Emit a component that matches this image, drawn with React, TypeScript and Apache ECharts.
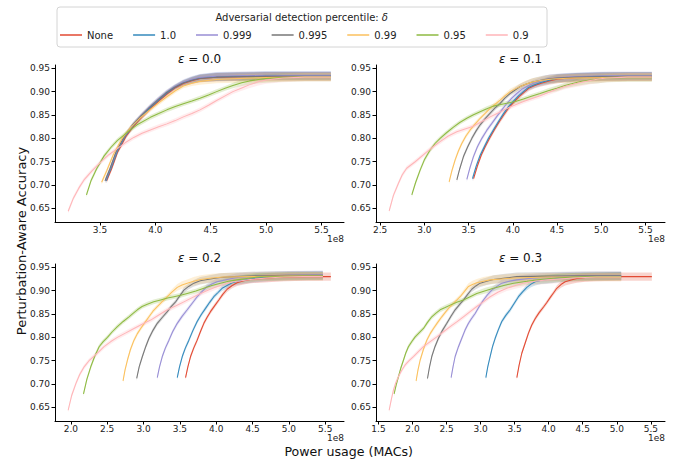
import React, { useEffect, useRef } from "react";
import * as echarts from "echarts";

// ---------- labels ----------
const SERIES_NAMES = ["None", "1.0", "0.999", "0.995", "0.99", "0.95", "0.9"];
const LEGEND_TITLE = "Adversarial detection percentile: ";
const EPSILONS = ["0.0", "0.1", "0.2", "0.3"];
const X_LABEL = "Power usage (MACs)";
const Y_LABEL = "Perturbation-Aware Accuracy";
const X_OFFSET_LABEL = "1e8";

// ---------- ticks ----------
const Y_TICKS = [0.65, 0.7, 0.75, 0.8, 0.85, 0.9, 0.95];
const X_TICKS_E0 = [3.5, 4.0, 4.5, 5.0, 5.5];
const X_TICKS_E1 = [2.5, 3.0, 3.5, 4.0, 4.5, 5.0, 5.5];
const X_TICKS_E2 = [2.0, 2.5, 3.0, 3.5, 4.0, 4.5, 5.0, 5.5];
const X_TICKS_E3 = [1.5, 2.0, 2.5, 3.0, 3.5, 4.0, 4.5, 5.0, 5.5];

// ---------- data: [MACs (x1e8), accuracy, band half-width (default 0.005)] ----------
// eps = 0.0
const E0_NONE = [[3.56,0.709],[3.605,0.735],[3.66,0.771],[3.735,0.804],[3.81,0.828],[3.885,0.847],[3.96,0.865],[4.035,0.881],[4.11,0.896],[4.185,0.909],[4.258,0.918,0.006],[4.335,0.924,0.007],[4.408,0.928,0.008],[4.555,0.931,0.009],[4.75,0.932,0.009],[5.0,0.933,0.009],[5.3,0.933,0.009],[5.584,0.933,0.009]];
const E0_P1000 = [[3.555,0.709],[3.60,0.736],[3.656,0.772],[3.73,0.805],[3.805,0.829],[3.88,0.848],[3.955,0.866],[4.03,0.882],[4.104,0.897],[4.18,0.910],[4.253,0.919,0.006],[4.33,0.925,0.007],[4.403,0.929,0.008],[4.55,0.932,0.009],[4.75,0.933,0.009],[5.0,0.934,0.009],[5.3,0.934,0.009],[5.584,0.934,0.009]];
const E0_P0999 = [[3.55,0.710],[3.595,0.737],[3.65,0.773],[3.725,0.806],[3.80,0.830],[3.875,0.850],[3.95,0.868],[4.025,0.884],[4.10,0.899],[4.175,0.911],[4.25,0.920,0.006],[4.325,0.926,0.007],[4.40,0.930,0.008],[4.55,0.933,0.009],[4.75,0.934,0.009],[5.0,0.935,0.009],[5.3,0.935,0.009],[5.584,0.935,0.009]];
const E0_P0995 = [[3.545,0.709],[3.59,0.735],[3.645,0.771],[3.72,0.804],[3.795,0.829],[3.87,0.848],[3.945,0.866],[4.02,0.882],[4.095,0.897],[4.17,0.909],[4.245,0.918,0.006],[4.32,0.924,0.007],[4.395,0.928,0.008],[4.55,0.931,0.009],[4.75,0.932,0.009],[5.0,0.933,0.009],[5.3,0.933,0.009],[5.584,0.933,0.009]];
const E0_P0990 = [[3.515,0.706],[3.56,0.730],[3.62,0.765],[3.70,0.800],[3.78,0.824],[3.86,0.843],[3.955,0.862],[4.03,0.876],[4.104,0.889],[4.18,0.902],[4.253,0.912],[4.33,0.918,0.006],[4.403,0.922,0.007],[4.55,0.926,0.008],[4.75,0.928,0.009],[5.0,0.930,0.009],[5.3,0.931,0.009],[5.584,0.931,0.009]];
const E0_P0950 = [[3.378,0.679],[3.42,0.71],[3.47,0.735],[3.536,0.762],[3.60,0.781],[3.656,0.795],[3.746,0.813],[3.835,0.829],[3.955,0.845],[4.03,0.853],[4.104,0.861],[4.18,0.868],[4.253,0.874],[4.33,0.880],[4.403,0.886],[4.48,0.893],[4.553,0.900],[4.63,0.907],[4.70,0.913,0.006],[4.78,0.919,0.007],[4.85,0.923,0.008],[4.93,0.926,0.008],[5.0,0.928,0.009],[5.15,0.930,0.009],[5.35,0.931,0.009],[5.584,0.931,0.009]];
const E0_P0900 = [[3.213,0.644],[3.26,0.672],[3.31,0.694],[3.356,0.711],[3.43,0.731],[3.506,0.749],[3.58,0.765],[3.656,0.778],[3.73,0.791],[3.805,0.802],[3.88,0.811],[3.955,0.818],[4.03,0.825],[4.104,0.831],[4.18,0.838],[4.253,0.846],[4.33,0.853],[4.403,0.861],[4.48,0.871],[4.553,0.881],[4.63,0.891],[4.70,0.900],[4.78,0.908,0.006],[4.852,0.915,0.007],[4.93,0.921,0.008],[5.0,0.925,0.008],[5.15,0.929,0.009],[5.35,0.931,0.009],[5.584,0.931,0.009]];

// eps = 0.1
const E1_NONE = [[3.556,0.714],[3.60,0.741],[3.645,0.765],[3.69,0.783],[3.737,0.800],[3.79,0.818],[3.848,0.836],[3.905,0.852],[3.961,0.867],[4.02,0.879],[4.074,0.890],[4.13,0.899],[4.187,0.908,0.006],[4.25,0.913,0.006],[4.32,0.918,0.007],[4.41,0.923,0.008],[4.51,0.927,0.009],[4.7,0.930,0.009],[5.0,0.932,0.009],[5.3,0.932,0.009],[5.572,0.932,0.009]];
const E1_P1000 = [[3.544,0.714],[3.585,0.740],[3.631,0.764],[3.68,0.783],[3.725,0.800],[3.78,0.818],[3.838,0.836],[3.895,0.853],[3.951,0.868],[4.01,0.880],[4.064,0.891],[4.12,0.900],[4.177,0.909,0.006],[4.24,0.914,0.006],[4.309,0.919,0.007],[4.40,0.924,0.008],[4.498,0.928,0.009],[4.7,0.931,0.009],[5.0,0.933,0.009],[5.3,0.933,0.009],[5.572,0.933,0.009]];
const E1_P0999 = [[3.48,0.712],[3.515,0.737],[3.555,0.761],[3.60,0.782],[3.65,0.800],[3.705,0.817],[3.763,0.832],[3.82,0.847],[3.876,0.861],[3.93,0.874],[3.989,0.886],[4.045,0.896],[4.102,0.905,0.006],[4.17,0.912,0.006],[4.234,0.918,0.007],[4.33,0.924,0.008],[4.422,0.928,0.009],[4.6,0.931,0.009],[4.85,0.933,0.009],[5.1,0.934,0.009],[5.35,0.934,0.009],[5.572,0.934,0.009]];
const E1_P0995 = [[3.367,0.711],[3.40,0.735],[3.442,0.761],[3.49,0.782],[3.537,0.800],[3.585,0.816],[3.631,0.829],[3.69,0.843],[3.744,0.854],[3.80,0.865],[3.857,0.875],[3.91,0.886],[3.97,0.896],[4.03,0.904,0.006],[4.083,0.911,0.006],[4.16,0.917,0.007],[4.234,0.921,0.008],[4.36,0.926,0.009],[4.498,0.929,0.009],[4.75,0.931,0.009],[5.0,0.932,0.009],[5.3,0.933,0.009],[5.572,0.933,0.009]];
const E1_P0990 = [[3.28,0.707],[3.31,0.730],[3.348,0.754],[3.385,0.773],[3.423,0.789],[3.47,0.805],[3.518,0.818],[3.575,0.831],[3.631,0.843],[3.69,0.854],[3.744,0.864],[3.80,0.873],[3.857,0.882],[3.91,0.891],[3.97,0.900,0.006],[4.04,0.907,0.006],[4.12,0.914,0.007],[4.21,0.920,0.008],[4.309,0.924,0.008],[4.45,0.927,0.009],[4.686,0.929,0.009],[5.0,0.930,0.009],[5.3,0.931,0.009],[5.572,0.931,0.009]];
const E1_P0950 = [[2.858,0.679],[2.90,0.705],[2.952,0.732],[3.00,0.754],[3.065,0.775],[3.12,0.789],[3.178,0.800],[3.25,0.812],[3.329,0.824],[3.40,0.834],[3.48,0.843],[3.55,0.850],[3.63,0.857],[3.70,0.863],[3.78,0.869],[3.85,0.872],[3.932,0.875],[4.03,0.879],[4.12,0.884],[4.21,0.890],[4.309,0.896],[4.40,0.902],[4.498,0.907,0.006],[4.59,0.913,0.006],[4.686,0.918,0.007],[4.78,0.922,0.008],[4.875,0.925,0.008],[4.97,0.927,0.009],[5.063,0.929,0.009],[5.3,0.930,0.009],[5.572,0.930,0.009]];
const E1_P0900 = [[2.602,0.645],[2.65,0.678],[2.707,0.704],[2.75,0.722],[2.80,0.736],[2.896,0.750],[3.028,0.771],[3.10,0.782],[3.178,0.793],[3.27,0.805],[3.367,0.814],[3.46,0.820],[3.555,0.826],[3.65,0.836],[3.744,0.846],[3.84,0.855],[3.932,0.864],[4.03,0.872],[4.12,0.879],[4.21,0.885],[4.309,0.891],[4.40,0.898],[4.498,0.905,0.006],[4.59,0.911,0.006],[4.686,0.916,0.007],[4.78,0.920,0.008],[4.875,0.924,0.008],[4.97,0.927,0.009],[5.063,0.929,0.009],[5.3,0.931,0.009],[5.572,0.931,0.009]];

// eps = 0.2
const E2_NONE = [[3.578,0.714],[3.61,0.737],[3.647,0.759],[3.69,0.777],[3.738,0.794],[3.785,0.813],[3.83,0.830],[3.875,0.843],[3.921,0.855],[3.98,0.868],[4.036,0.880],[4.09,0.892],[4.15,0.903,0.006],[4.22,0.911,0.006],[4.287,0.917,0.007],[4.38,0.921,0.008],[4.47,0.924,0.008],[4.70,0.927,0.009],[4.928,0.929,0.009],[5.25,0.930,0.009],[5.577,0.930,0.009]];
const E2_P1000 = [[3.464,0.714],[3.495,0.737],[3.533,0.759],[3.575,0.777],[3.624,0.794],[3.68,0.815],[3.738,0.834],[3.795,0.849],[3.853,0.862],[3.91,0.875],[3.967,0.887],[4.025,0.896],[4.081,0.905,0.006],[4.15,0.911,0.006],[4.219,0.917,0.007],[4.32,0.921,0.008],[4.425,0.924,0.008],[4.56,0.927,0.009],[4.70,0.929,0.009],[5.0,0.931,0.009],[5.467,0.932,0.009]];
const E2_P0999 = [[3.189,0.714],[3.22,0.737],[3.258,0.759],[3.30,0.777],[3.35,0.794],[3.40,0.812],[3.464,0.830],[3.53,0.845],[3.601,0.859],[3.67,0.873],[3.738,0.887],[3.81,0.899],[3.876,0.909,0.006],[3.94,0.914,0.006],[4.013,0.919,0.007],[4.15,0.924,0.008],[4.287,0.928,0.009],[4.6,0.931,0.009],[5.0,0.933,0.009],[5.467,0.934,0.009]];
const E2_P0995 = [[2.906,0.712],[2.94,0.737],[2.984,0.759],[3.03,0.780],[3.075,0.798],[3.13,0.815],[3.189,0.830],[3.26,0.843],[3.327,0.855],[3.38,0.866],[3.441,0.876],[3.50,0.889],[3.555,0.901,0.006],[3.62,0.909,0.006],[3.693,0.916,0.007],[3.78,0.921,0.008],[3.876,0.924,0.008],[4.05,0.928,0.009],[4.242,0.930,0.009],[4.6,0.932,0.009],[5.0,0.933,0.009],[5.467,0.933,0.009]];
const E2_P0990 = [[2.718,0.707],[2.745,0.730],[2.778,0.751],[2.82,0.774],[2.869,0.794],[2.915,0.808],[2.961,0.819],[3.02,0.832],[3.075,0.844],[3.13,0.856],[3.189,0.866],[3.26,0.877],[3.327,0.887],[3.39,0.897,0.006],[3.464,0.907,0.007],[3.53,0.912,0.008],[3.601,0.916,0.008],[3.69,0.920,0.009],[3.784,0.924,0.009],[3.94,0.927,0.009],[4.104,0.929,0.009],[4.5,0.930,0.009],[5.0,0.931,0.009],[5.467,0.931,0.009]];
const E2_P0950 = [[2.174,0.679],[2.22,0.710],[2.274,0.737],[2.33,0.760],[2.389,0.780],[2.445,0.791],[2.503,0.800],[2.57,0.812],[2.64,0.823],[2.72,0.834],[2.80,0.844],[2.86,0.852],[2.915,0.859],[2.98,0.866],[3.052,0.871],[3.14,0.876],[3.235,0.880],[3.33,0.884],[3.418,0.887],[3.51,0.890],[3.601,0.894],[3.72,0.899],[3.83,0.905,0.006],[3.94,0.911,0.006],[4.059,0.916,0.007],[4.17,0.920,0.008],[4.287,0.923,0.008],[4.42,0.926,0.009],[4.562,0.929,0.009],[4.9,0.930,0.009],[5.2,0.931,0.009],[5.467,0.931,0.009]];
const E2_P0900 = [[1.963,0.644],[2.01,0.675],[2.069,0.701],[2.12,0.720],[2.183,0.737],[2.25,0.750],[2.32,0.760],[2.39,0.770],[2.457,0.780],[2.55,0.791],[2.64,0.800],[2.75,0.809],[2.869,0.819],[2.98,0.828],[3.098,0.837],[3.21,0.848],[3.327,0.859],[3.44,0.867],[3.555,0.876],[3.67,0.885],[3.784,0.894],[3.90,0.902,0.006],[4.013,0.909,0.006],[4.13,0.915,0.007],[4.242,0.919,0.008],[4.47,0.924,0.008],[4.70,0.927,0.009],[4.928,0.929,0.009],[5.2,0.930,0.009],[5.467,0.930,0.009]];

// eps = 0.3
const E3_NONE = [[3.532,0.714],[3.565,0.740],[3.605,0.766],[3.655,0.788],[3.703,0.809],[3.75,0.826],[3.801,0.840],[3.86,0.853],[3.924,0.865],[3.97,0.874],[4.021,0.885],[4.07,0.895],[4.119,0.905,0.006],[4.18,0.913,0.007],[4.242,0.919,0.008],[4.33,0.923,0.009],[4.413,0.926,0.009],[4.54,0.928,0.009],[4.658,0.929,0.009],[5.0,0.930,0.009],[5.3,0.930,0.009],[5.515,0.930,0.009]];
const E3_P1000 = [[3.077,0.714],[3.105,0.737],[3.14,0.759],[3.175,0.780],[3.214,0.798],[3.26,0.816],[3.311,0.834],[3.37,0.847],[3.434,0.859],[3.495,0.873],[3.556,0.887],[3.62,0.898],[3.679,0.907,0.006],[3.74,0.914,0.007],[3.801,0.919,0.008],[3.89,0.922,0.008],[3.972,0.924,0.009],[4.16,0.927,0.009],[4.364,0.929,0.009],[4.7,0.930,0.009],[5.064,0.931,0.009]];
const E3_P0999 = [[2.567,0.714],[2.595,0.737],[2.626,0.759],[2.675,0.780],[2.724,0.798],[2.77,0.815],[2.822,0.830],[2.87,0.841],[2.92,0.851],[2.98,0.866],[3.042,0.880],[3.10,0.891],[3.165,0.901,0.006],[3.24,0.909,0.007],[3.311,0.916,0.008],[3.42,0.920,0.008],[3.532,0.923,0.009],[3.70,0.926,0.009],[3.875,0.928,0.009],[4.3,0.931,0.009],[4.7,0.932,0.009],[5.064,0.932,0.009]];
const E3_P0995 = [[2.22,0.712],[2.25,0.737],[2.283,0.759],[2.33,0.780],[2.381,0.798],[2.44,0.815],[2.504,0.830],[2.565,0.845],[2.626,0.859],[2.69,0.870],[2.748,0.880],[2.81,0.892],[2.871,0.903,0.006],[2.93,0.910,0.007],[2.993,0.916,0.008],[3.09,0.920,0.008],[3.189,0.924,0.009],[3.36,0.927,0.009],[3.532,0.930,0.009],[4.0,0.931,0.009],[4.5,0.932,0.009],[5.064,0.932,0.009]];
const E3_P0990 = [[2.053,0.707],[2.08,0.730],[2.112,0.751],[2.16,0.774],[2.21,0.794],[2.26,0.808],[2.308,0.819],[2.37,0.832],[2.43,0.844],[2.49,0.855],[2.553,0.866],[2.63,0.877],[2.70,0.887],[2.76,0.898,0.006],[2.822,0.909,0.007],[2.88,0.913,0.008],[2.944,0.917,0.008],[3.04,0.920,0.009],[3.14,0.923,0.009],[3.31,0.925,0.009],[3.483,0.927,0.009],[4.0,0.929,0.009],[4.5,0.929,0.009],[5.064,0.929,0.009]];
const E3_P0950 = [[1.73,0.679],[1.76,0.698],[1.794,0.716],[1.83,0.735],[1.867,0.751],[1.90,0.766],[1.94,0.780],[1.99,0.791],[2.039,0.801],[2.10,0.810],[2.161,0.819],[2.22,0.832],[2.283,0.844],[2.345,0.852],[2.406,0.859],[2.48,0.864],[2.553,0.869],[2.65,0.875],[2.748,0.880],[2.846,0.887],[2.944,0.894],[3.07,0.900,0.006],[3.189,0.905,0.006],[3.34,0.911,0.007],[3.483,0.916,0.008],[3.68,0.920,0.008],[3.875,0.924,0.009],[4.12,0.927,0.009],[4.364,0.929,0.009],[4.7,0.930,0.009],[5.064,0.930,0.009]];
const E3_P0900 = [[1.657,0.644],[1.69,0.668],[1.72,0.687],[1.755,0.703],[1.794,0.716],[1.84,0.729],[1.892,0.741],[1.95,0.750],[2.014,0.759],[2.09,0.770],[2.161,0.780],[2.26,0.791],[2.357,0.801],[2.455,0.812],[2.553,0.823],[2.65,0.833],[2.748,0.844],[2.846,0.855],[2.944,0.866],[3.04,0.876],[3.14,0.887],[3.26,0.897,0.006],[3.385,0.905,0.006],[3.51,0.911,0.007],[3.63,0.916,0.008],[3.80,0.920,0.008],[3.972,0.923,0.009],[4.364,0.927,0.009],[4.7,0.929,0.009],[5.064,0.929,0.009]];

const PANELS = [
  [E0_NONE, E0_P1000, E0_P0999, E0_P0995, E0_P0990, E0_P0950, E0_P0900],
  [E1_NONE, E1_P1000, E1_P0999, E1_P0995, E1_P0990, E1_P0950, E1_P0900],
  [E2_NONE, E2_P1000, E2_P0999, E2_P0995, E2_P0990, E2_P0950, E2_P0900],
  [E3_NONE, E3_P1000, E3_P0999, E3_P0995, E3_P0990, E3_P0950, E3_P0900],
];
const X_TICKS = [X_TICKS_E0, X_TICKS_E1, X_TICKS_E2, X_TICKS_E3];

// ---------- layout / style ----------
const COLORS = ["#E24A33", "#348ABD", "#988ED5", "#777777", "#FBC15E", "#8EBA42", "#FFB5B8"];
const FONT = "DejaVu Sans";
const GRIDS = [
  { left: 55, top: 65, width: 289, height: 157 },
  { left: 376, top: 65, width: 289, height: 157 },
  { left: 55, top: 264, width: 289, height: 157 },
  { left: 376, top: 264, width: 289, height: 157 },
];
const X_RANGES = [[3.094, 5.703], [2.453, 5.721], [1.782, 5.758], [1.464, 5.708]];
const Y_RANGE = [0.621, 0.957];
const DEFAULT_BAND = 0.005;

function buildOption() {
  const series: any[] = [];
  PANELS.forEach((panel, pi) => {
    panel.forEach((pts, si) => {
      const color = COLORS[si];
      series.push({
        type: "custom",
        name: "band-" + pi + "-" + si,
        xAxisIndex: pi,
        yAxisIndex: pi,
        silent: true,
        z: 1,
        data: [[pts[0][0], pts[0][1]]],
        renderItem: (params: any, api: any) => {
          const upper = pts.map((p) => api.coord([p[0], p[1] + (p[2] ?? DEFAULT_BAND)]));
          const lower = pts
            .slice()
            .reverse()
            .map((p) => api.coord([p[0], p[1] - (p[2] ?? DEFAULT_BAND)]));
          return {
            type: "polygon",
            shape: { points: upper.concat(lower) },
            style: { fill: echarts.color.modifyAlpha(color, 0.24), stroke: "none" },
          };
        },
      });
    });
    panel.forEach((pts, si) => {
      const color = COLORS[si];
      series.push({
        type: "line",
        name: SERIES_NAMES[si],
        xAxisIndex: pi,
        yAxisIndex: pi,
        data: pts.map((p) => [p[0], p[1]]),
        showSymbol: false,
        symbol: "none",
        z: 3,
        lineStyle: { color, width: 1.05 },
        itemStyle: { color },
      });
    });
  });

  const xAxis = GRIDS.map((g, i) => ({
    type: "value",
    gridIndex: i,
    min: X_RANGES[i][0],
    max: X_RANGES[i][1],
    axisLine: { show: true, onZero: false, lineStyle: { color: "#000", width: 1 } },
    axisTick: { show: true, customValues: X_TICKS[i], length: 3.5, lineStyle: { color: "#000", width: 1 } },
    axisLabel: {
      customValues: X_TICKS[i],
      formatter: (v: number) => v.toFixed(1),
      fontSize: 9,
      color: "#222",
      margin: 3,
      fontFamily: FONT,
    },
    splitLine: { show: false },
  }));

  const yAxis = GRIDS.map((g, i) => ({
    type: "value",
    gridIndex: i,
    min: Y_RANGE[0],
    max: Y_RANGE[1],
    axisLine: { show: true, onZero: false, lineStyle: { color: "#000", width: 1 } },
    axisTick: { show: true, customValues: Y_TICKS, length: 3.5, lineStyle: { color: "#000", width: 1 } },
    axisLabel: {
      customValues: Y_TICKS,
      formatter: (v: number) => v.toFixed(2),
      fontSize: 9,
      color: "#222",
      margin: 5,
      fontFamily: FONT,
    },
    splitLine: { show: false },
  }));

  const graphic: any[] = [
    {
      type: "rect",
      z: 0,
      shape: { x: 57, y: 7, width: 490, height: 40, r: 3 },
      style: { fill: "#fff", stroke: "#d4d4d4", lineWidth: 1 },
    },
    {
      type: "text",
      z: 5,
      x: 301.7,
      y: 17.5,
      style: {
        text: LEGEND_TITLE + "{i|δ}",
        fontSize: 10,
        fontFamily: FONT,
        fill: "#222",
        align: "center",
        verticalAlign: "middle",
        rich: { i: { fontStyle: "italic", fontSize: 10, fontFamily: FONT, fill: "#222" } },
      },
    },
    {
      type: "text",
      x: 21.7,
      y: 241,
      rotation: Math.PI / 2,
      style: { text: Y_LABEL, fontSize: 13, fontFamily: FONT, fill: "#111", align: "center", verticalAlign: "middle" },
    },
    {
      type: "text",
      x: 348.7,
      y: 451.5,
      style: { text: X_LABEL, fontSize: 12.6, fontFamily: FONT, fill: "#111", align: "center", verticalAlign: "middle" },
    },
  ];
  GRIDS.forEach((g, i) => {
    graphic.push({
      type: "text",
      x: g.left + g.width / 2,
      y: g.top - 6,
      style: {
        text: "{i|ε} = " + EPSILONS[i],
        fontSize: 12,
        fontFamily: FONT,
        fill: "#111",
        align: "center",
        verticalAlign: "middle",
        rich: { i: { fontStyle: "italic", fontSize: 12, fontFamily: FONT, fill: "#111" } },
      },
    });
    graphic.push({
      type: "text",
      x: g.left + g.width,
      y: g.top + g.height + 17,
      style: { text: X_OFFSET_LABEL, fontSize: 9, fontFamily: FONT, fill: "#222", align: "right", verticalAlign: "middle" },
    });
  });

  return {
    animation: false,
    backgroundColor: "#fff",
    textStyle: { fontFamily: FONT },
    grid: GRIDS.map((g) => ({ ...g, containLabel: false })),
    xAxis,
    yAxis,
    series,
    graphic,
    legend: {
      z: 10,
      data: SERIES_NAMES.map((n) => ({ name: n, icon: "rect" })),
      left: 60,
      top: 30,
      padding: 0,
      itemWidth: 22,
      itemHeight: 1.5,
      itemGap: 20,
      selectedMode: false,
      textStyle: { fontSize: 10, fontFamily: FONT, color: "#222" },
    },
  };
}

export default function App() {
  const ref = useRef<HTMLDivElement>(null);
  useEffect(() => {
    if (!ref.current) return;
    const chart = echarts.init(ref.current, undefined, { renderer: "svg" });
    chart.setOption(buildOption() as any);
    return () => chart.dispose();
  }, []);
  return (
    <div
      ref={ref}
      style={{ position: "fixed", left: 0, top: 0, width: 686, height: 460, background: "#fff" }}
    />
  );
}
